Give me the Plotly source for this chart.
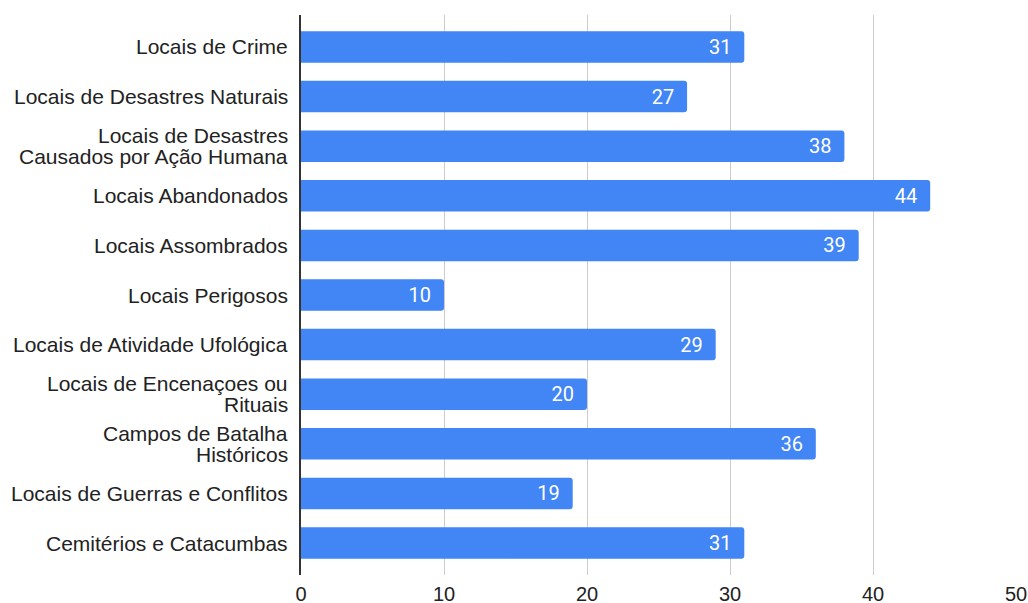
import plotly.graph_objects as go

# Categories, top to bottom ("<br>" marks a wrapped line)
categories = [
    "Locais de Crime",
    "Locais de Desastres Naturais",
    "Locais de Desastres<br>Causados por Ação Humana",
    "Locais Abandonados",
    "Locais Assombrados",
    "Locais Perigosos",
    "Locais de Atividade Ufológica",
    "Locais de Encenaçoes ou<br>Rituais",
    "Campos de Batalha<br>Históricos",
    "Locais de Guerras e Conflitos",
    "Cemitérios e Catacumbas",
]
values = [31, 27, 38, 44, 39, 10, 29, 20, 36, 19, 31]
x_ticks = [0, 10, 20, 30, 40, 50]

BLUE = "#4285F4"
TEXT = "#222222"
LABEL_FONT = "Liberation Sans, Arial, sans-serif"
LABEL_SIZE = 21
LINE_GAP = 21.5  # tight spacing between wrapped label lines

positions = list(range(len(categories)))

fig = go.Figure(
    go.Bar(
        x=values,
        y=positions,
        orientation="h",
        marker=dict(color=BLUE, line=dict(width=0)),
        width=0.635,
        text=[str(v) for v in values],
        texttemplate="%{text}\u00a0\u00a0",
        textposition="inside",
        insidetextanchor="end",
        textangle=0,
        textfont=dict(color="white", size=20, family="Roboto, sans-serif"),
        hoverinfo="skip",
    )
)

# Category labels drawn as annotations so wrapped lines can sit close together
for pos, label in zip(positions, categories):
    lines = label.split("<br>")
    n = len(lines)
    for i, line in enumerate(lines):
        fig.add_annotation(
            x=0, xref="paper",
            y=pos, yref="y",
            text=line,
            showarrow=False,
            xanchor="right",
            yanchor="middle",
            xshift=-11,
            yshift=((n - 1) / 2 - i) * LINE_GAP,
            font=dict(size=LABEL_SIZE, color=TEXT, family=LABEL_FONT),
        )

fig.update_layout(
    width=1028,
    height=603,
    margin=dict(l=301, r=12, t=15, b=28, autoexpand=False),
    paper_bgcolor="white",
    plot_bgcolor="white",
    showlegend=False,
    barcornerradius=3,
    font=dict(family=LABEL_FONT, color=TEXT, size=20),
)

fig.update_xaxes(
    range=[0, 50],
    tickvals=x_ticks,
    ticktext=[str(t) for t in x_ticks],
    showgrid=True,
    gridcolor="#cccccc",
    gridwidth=1,
    zeroline=False,
    showline=False,
    ticks="",
    automargin=False,
    ticklabelstandoff=5,
    tickfont=dict(size=20, color=TEXT, family=LABEL_FONT),
    fixedrange=True,
)

fig.update_yaxes(
    tickvals=positions,
    showticklabels=False,
    range=[len(categories) - 1 + 0.645, -0.645],
    showgrid=False,
    zeroline=False,
    showline=True,
    linecolor="#333333",
    linewidth=1.5,
    ticks="",
    automargin=False,
    fixedrange=True,
)

fig.write_html("out.html")
